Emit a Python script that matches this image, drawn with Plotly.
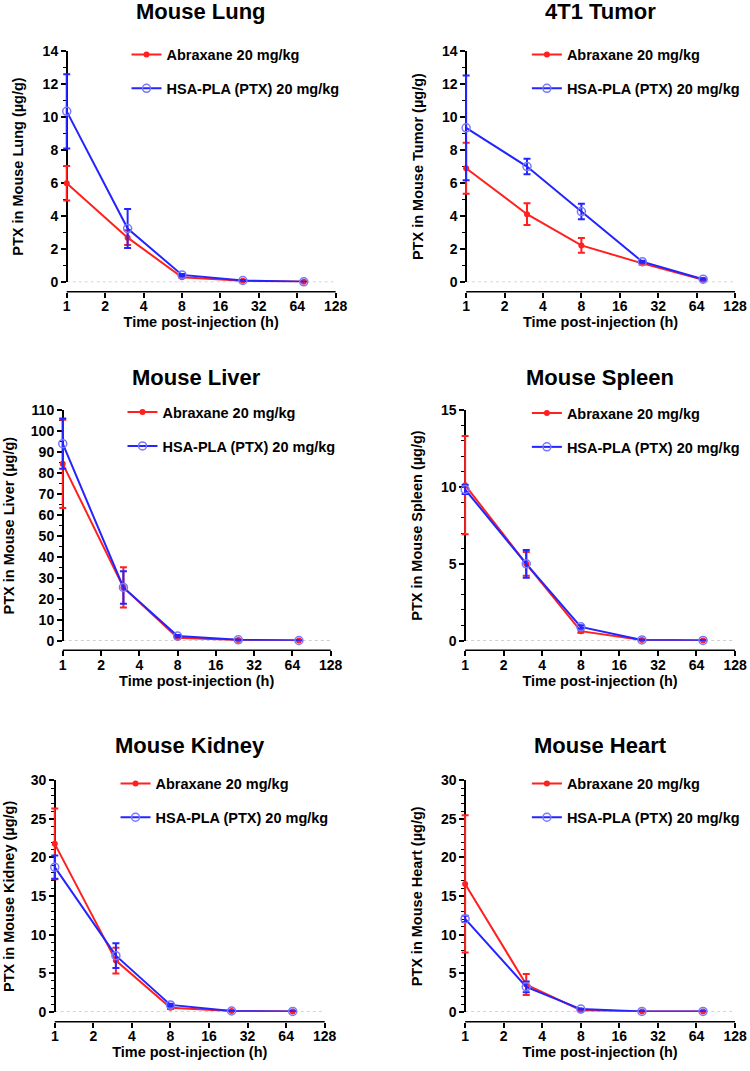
import math
import plotly.graph_objects as go

# ---------------- data ----------------
time_h = [1, 3, 8, 24, 72]
series_names = ["Abraxane 20 mg/kg", "HSA-PLA (PTX) 20 mg/kg"]
x_ticks = [1, 2, 4, 8, 16, 32, 64, 128]

lung_abx = [6.0, 2.7, 0.3, 0.08, 0.02]
lung_abx_err = [1.05, 0.45, 0.05, 0.02, 0.01]
lung_hsa = [10.36, 3.25, 0.44, 0.1, 0.02]
lung_hsa_err = [2.25, 1.18, 0.06, 0.02, 0.01]

tumor_abx = [6.91, 4.12, 2.23, 1.14, 0.14]
tumor_abx_err = [1.55, 0.66, 0.45, 0.08, 0.04]
tumor_hsa = [9.36, 7.01, 4.28, 1.24, 0.18]
tumor_hsa_err = [3.18, 0.47, 0.47, 0.06, 0.04]

liver_abx = [84.4, 25.4, 1.4, 0.3, 0.1]
liver_abx_err = [21.1, 9.6, 0.4, 0.1, 0.05]
liver_hsa = [94.0, 25.4, 2.2, 0.4, 0.1]
liver_hsa_err = [12.0, 7.8, 0.5, 0.1, 0.05]

spleen_abx = [10.12, 5.0, 0.62, 0.05, 0.02]
spleen_abx_err = [3.2, 0.78, 0.1, 0.02, 0.01]
spleen_hsa = [9.84, 5.0, 0.9, 0.05, 0.02]
spleen_hsa_err = [0.3, 0.9, 0.1, 0.02, 0.01]

kidney_abx = [21.76, 6.63, 0.51, 0.1, 0.05]
kidney_abx_err = [4.6, 1.68, 0.15, 0.03, 0.02]
kidney_hsa = [18.74, 7.27, 0.89, 0.1, 0.05]
kidney_hsa_err = [1.5, 1.6, 0.15, 0.03, 0.02]

heart_abx = [16.57, 3.53, 0.2, 0.05, 0.05]
heart_abx_err = [8.9, 1.35, 0.05, 0.02, 0.02]
heart_hsa = [12.03, 3.23, 0.35, 0.05, 0.05]
heart_hsa_err = [0.4, 0.7, 0.05, 0.02, 0.02]

panel_titles = ["Mouse Lung", "4T1 Tumor", "Mouse Liver", "Mouse Spleen", "Mouse Kidney", "Mouse Heart"]
y_titles = ["PTX in Mouse Lung (µg/g)", "PTX in Mouse Tumor (µg/g)", "PTX in Mouse Liver (µg/g)",
            "PTX in Mouse Spleen (µg/g)", "PTX in Mouse Kidney (µg/g)", "PTX in Mouse Heart (µg/g)"]
x_title = "Time post-injection (h)"
y_max = [14, 14, 110, 15, 30, 30]
y_dtick = [2, 2, 10, 5, 5, 5]
y_minor = [1, 1, 5, 1, 1, 1]

abx_sets = [(lung_abx, lung_abx_err), (tumor_abx, tumor_abx_err), (liver_abx, liver_abx_err),
            (spleen_abx, spleen_abx_err), (kidney_abx, kidney_abx_err), (heart_abx, heart_abx_err)]
hsa_sets = [(lung_hsa, lung_hsa_err), (tumor_hsa, tumor_hsa_err), (liver_hsa, liver_hsa_err),
            (spleen_hsa, spleen_hsa_err), (kidney_hsa, kidney_hsa_err), (heart_hsa, heart_hsa_err)]

# ---------------- layout geometry (pixels) ----------------
W, H = 750, 1071
# x0, x1, y_top, y_bottom, xaxis_y, title_y, ytitle_x, legend_x, legend_y
geom = [
    (67, 337, 44, 278.3, 288, 4, 18, 127, 31),
    (468, 738, 44, 278.3, 288, 4, 419, 529, 31),
    (63, 332, 408.3, 642.3, 652, 375, 9, 123, 394),
    (467, 738, 408.3, 642.3, 652, 375, 419, 529, 395),
    (55, 326, 784, 1019, 1029, 749, 9, 116, 771),
    (467, 738, 784, 1019, 1029, 749, 419, 529, 771),
]
PAD = 9  # px of extra room around the x span so error-bar caps at x=1 are not clipped

FONT = "Liberation Sans, Arial, sans-serif"
RED = "#FF2020"
BLUE = "#2424FF"
BLUE_MK = "#7777FF"

fig = go.Figure()
layout = dict(
    width=W, height=H, margin=dict(l=0, r=0, t=0, b=0),
    paper_bgcolor="white", plot_bgcolor="white",
    font=dict(family=FONT, color="black"),
    annotations=[], shapes=[],
)

def px_x(v):
    return v / W

def px_y(v):
    return 1 - v / H

lx_lo = math.log10(x_ticks[0])
lx_hi = math.log10(x_ticks[-1])

for i in range(6):
    n = i + 1
    xa = "x" if n == 1 else f"x{n}"
    ya = "y" if n == 1 else f"y{n}"
    xkey = "xaxis" if n == 1 else f"xaxis{n}"
    ykey = "yaxis" if n == 1 else f"yaxis{n}"
    lkey = "legend" if n == 1 else f"legend{n}"
    x0, x1, yt, yb, xay, ty, ytx, lx, ly = geom[i]

    abx, abx_err = abx_sets[i]
    hsa, hsa_err = hsa_sets[i]

    fig.add_trace(go.Scatter(
        x=time_h, y=abx, name=series_names[0], mode="lines+markers",
        line=dict(color=RED, width=2),
        marker=dict(symbol="circle", size=6, color=RED),
        error_y=dict(type="data", array=abx_err, color=RED, thickness=2, width=3.5),
        xaxis=xa, yaxis=ya, legend=lkey, legendgroup=f"a{n}", cliponaxis=False,
    ))
    fig.add_trace(go.Scatter(
        x=time_h, y=hsa, name=series_names[1], mode="lines+markers",
        line=dict(color=BLUE, width=2),
        marker=dict(symbol="circle-open", size=8, color=BLUE_MK, line=dict(width=1.5, color=BLUE_MK)),
        error_y=dict(type="data", array=hsa_err, color=BLUE, thickness=2, width=3.5),
        xaxis=xa, yaxis=ya, legend=lkey, legendgroup=f"b{n}", cliponaxis=False,
    ))

    k = (x1 - x0) / (lx_hi - lx_lo)
    layout[xkey] = dict(
        domain=[px_x(x0 - PAD), px_x(x1 + PAD)], anchor="free", position=px_y(xay),
        type="log", range=[lx_lo - PAD / k, lx_hi + PAD / k],
        tickvals=x_ticks, ticktext=[str(t) for t in x_ticks],
        showline=False, ticks="outside", ticklen=5,
        tickwidth=1.5, tickcolor="black", showgrid=False, zeroline=False,
        ticklabelstandoff=-3, layer="below traces",
        tickfont=dict(size=14, family=FONT, weight="bold"),
        title=dict(text=x_title, font=dict(size=14.5, family=FONT, weight="bold"), standoff=2),
    )
    layout[ykey] = dict(
        domain=[px_y(yb), px_y(yt)], anchor="free", position=px_x(x0), range=[0, y_max[i]],
        dtick=y_dtick[i], tick0=0, layer="below traces",
        showline=True, linecolor="black", linewidth=1.5, ticks="outside", ticklen=5,
        tickwidth=1.5, tickcolor="black", showgrid=False, zeroline=False,
        tickfont=dict(size=14, family=FONT, weight="bold"),
        minor=dict(dtick=y_minor[i], ticks="outside", ticklen=3, tickwidth=1, tickcolor="black", showgrid=False),
    )
    layout[lkey] = dict(
        x=px_x(lx), y=px_y(ly), xanchor="left", yanchor="top", bgcolor="rgba(0,0,0,0)",
        font=dict(size=14.5, family=FONT, weight="bold", color="black"),
        tracegroupgap=12, itemwidth=30,
    )
    # x axis line from x=1 to x=128 (offset below the y=0 level, GraphPad style)
    layout["shapes"].append(dict(
        type="line", xref=xa, yref="paper", x0=x_ticks[0], x1=x_ticks[-1], y0=px_y(xay), y1=px_y(xay),
        line=dict(color="black", width=1.5), layer="below",
    ))
    # dotted baseline at y = 0
    layout["shapes"].append(dict(
        type="line", xref=xa, yref=ya, x0=x_ticks[0], x1=x_ticks[-1], y0=0, y1=0,
        line=dict(color="#B0B0B0", width=1, dash="dot"), layer="below",
    ))
    # panel title
    layout["annotations"].append(dict(
        text=panel_titles[i], xref="paper", yref="paper",
        x=px_x((x0 + x1) / 2), y=px_y(ty), xanchor="center", yanchor="middle",
        showarrow=False, font=dict(size=22, family=FONT, weight="bold"),
    ))
    # y-axis title
    layout["annotations"].append(dict(
        text=y_titles[i], xref="paper", yref="paper", textangle=-90,
        x=px_x(ytx), y=px_y((yt + yb) / 2), xanchor="center", yanchor="middle",
        showarrow=False, font=dict(size=14.5, family=FONT, weight="bold"),
    ))

fig.update_layout(**layout)
fig.write_html("out.html")
